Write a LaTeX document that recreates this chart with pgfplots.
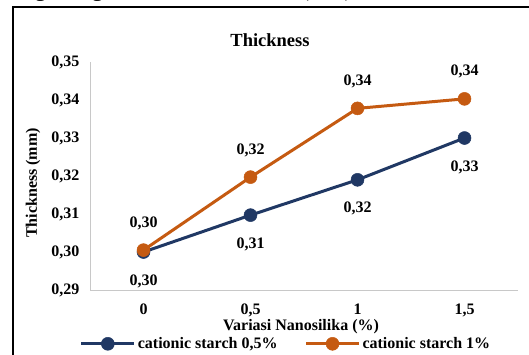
\documentclass[border=0pt]{standalone}
\usepackage{fontspec}
\setmainfont{Liberation Serif}
\usepackage{pgfplots}
\pgfplotsset{compat=1.18}
\definecolor{cblue}{RGB}{32,56,100}
\definecolor{corange}{RGB}{197,90,17}
\definecolor{axgray}{RGB}{200,200,200}
\begin{document}
\begin{tikzpicture}[x=1pt,y=1pt]
\path[use as bounding box, clip] (0,0) rectangle (529,354);
\node[anchor=base west, inner sep=0, font=\fontsize{23}{23}\selectfont] at (13,357) {angka digital dalam mili meter (mm).};
\draw[line width=1.5pt] (13,-5) -- (13,347) -- (540,347);
\node[font=\bfseries\fontsize{18.5}{20}\selectfont] at (270,314) {Thickness};
\node[font=\bfseries\fontsize{16}{16}\selectfont, rotate=90] at (33,171) {Thickness (mm)};
\node[font=\bfseries\fontsize{16}{16}\selectfont] at (301,27) {Variasi Nanosilika (\%)};
\begin{axis}[at={(90pt,64pt)}, anchor=south west, width=428pt, height=228pt, scale only axis,
  xmin=-0.5, xmax=3.5, ymin=0.29, ymax=0.35,
  xtick={0,1,2,3}, xticklabels={0,{0,5},1,{1,5}},
  ytick={0.29,0.30,0.31,0.32,0.33,0.34,0.35},
  axis x line*=bottom, axis y line*=left,
  axis line style={axgray, line width=1pt},
  major tick length=0pt,
  tick label style={font=\bfseries\fontsize{16}{16}\selectfont},
  yticklabel style={xshift=-7pt},
  xticklabel style={yshift=-10pt},
  /pgf/number format/use comma,
  /pgf/number format/fixed,
  /pgf/number format/fixed zerofill,
  /pgf/number format/precision=2,
  /pgf/number format/assume math mode=true,
  legend columns=2,
  legend style={at={(0.458,-0.236)}, anchor=center, draw=none, fill=none,
    font=\bfseries\fontsize{16}{16}\selectfont,
    /tikz/every even column/.style={column sep=25pt}},
  legend image code/.code={\draw[mark repeat=2,mark phase=2,#1] plot coordinates {(0pt,0pt) (26.5pt,0pt) (53pt,0pt)};},
  every node near coord/.append style={font=\bfseries\fontsize{16}{16}\selectfont, text=black, anchor=center},
]
\addplot[cblue, line width=3pt, mark=*, mark size=6.5pt, mark options={solid, line width=0.5pt, fill=cblue},
  nodes near coords, every node near coord/.append style={yshift=-29pt}]
  coordinates {(0,0.3000) (1,0.3097) (2,0.3190) (3,0.3300)};
\addlegendentry{cationic starch 0,5\%}
\addplot[corange, line width=3pt, mark=*, mark size=6.5pt, mark options={solid, line width=0.5pt, fill=corange},
  nodes near coords, every node near coord/.append style={yshift=27pt}]
  coordinates {(0,0.3005) (1,0.3197) (2,0.3378) (3,0.3403)};
\addlegendentry{cationic starch 1\%}
\end{axis}
\end{tikzpicture}
\end{document}
